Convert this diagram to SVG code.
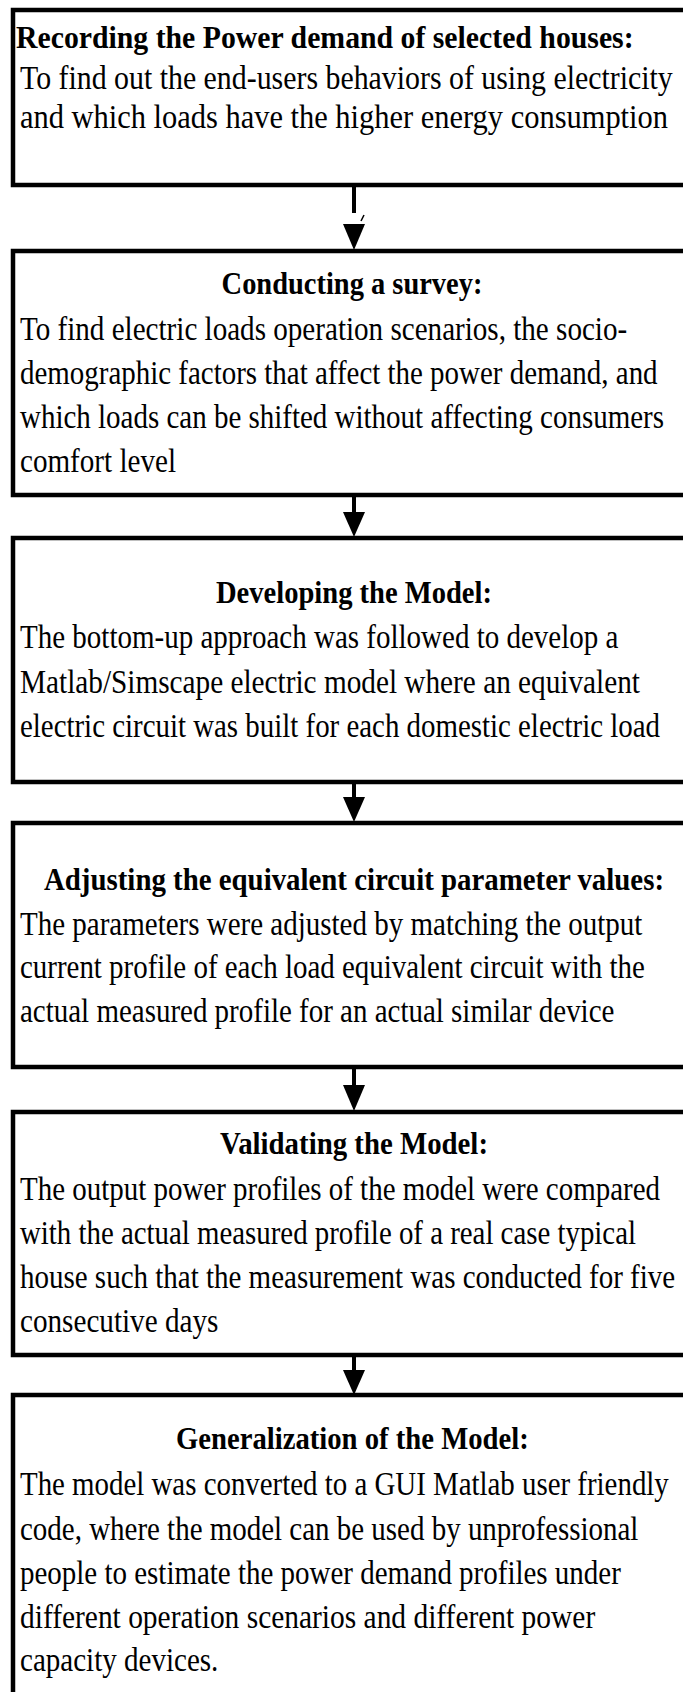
<svg xmlns="http://www.w3.org/2000/svg" width="683" height="1692" viewBox="0 0 683 1692">
<style>
.box{fill:#fff;stroke:#000;stroke-width:4.5}
.t{font-family:"Liberation Serif","Times New Roman",serif;font-size:31px;font-weight:bold;fill:#000}
.b{font-family:"Liberation Serif","Times New Roman",serif;font-size:33px;fill:#000}
.ln{stroke:#000;stroke-width:4;fill:none}
.hd{fill:#000}
</style>
<rect width="683" height="1692" fill="#fff"/>
<g id="connectors">
<line class="ln" x1="354" y1="186" x2="354" y2="213"/>
<line x1="361" y1="221" x2="364" y2="215" stroke="#000" stroke-width="1.5"/>
<polygon class="hd" points="343,224 365,224 354,250"/>
<line class="ln" x1="354" y1="496" x2="354" y2="514"/>
<polygon class="hd" points="343,512 365,512 354,537"/>
<line class="ln" x1="354" y1="783" x2="354" y2="799"/>
<polygon class="hd" points="343,797 365,797 354,822"/>
<line class="ln" x1="354" y1="1068" x2="354" y2="1087"/>
<polygon class="hd" points="343,1085 365,1085 354,1111"/>
<line class="ln" x1="354" y1="1356" x2="354" y2="1372"/>
<polygon class="hd" points="343,1370 365,1370 354,1395"/>
</g>
<g id="n1">
<rect class="box" x="13" y="10" width="700" height="175"/>
<g transform="scale(0.8 1)">
<text class="t" x="20" y="48" textLength="772" lengthAdjust="spacingAndGlyphs">Recording the Power demand of  selected houses:</text>
<text class="b" x="25" y="89" textLength="816" lengthAdjust="spacingAndGlyphs">To  find out the end-users behaviors of using electricity</text>
<text class="b" x="25" y="128" textLength="810" lengthAdjust="spacingAndGlyphs">and which loads have the higher energy consumption</text>
</g>
</g>
<g id="n2">
<rect class="box" x="13" y="251" width="700" height="244"/>
<g transform="scale(0.8 1)">
<text class="t" x="277" y="294" textLength="326" lengthAdjust="spacingAndGlyphs">Conducting a survey:</text>
<text class="b" x="25" y="340" textLength="759" lengthAdjust="spacingAndGlyphs">To  find electric loads operation scenarios, the socio-</text>
<text class="b" x="25" y="384" textLength="797" lengthAdjust="spacingAndGlyphs">demographic factors that affect the power demand, and</text>
<text class="b" x="25" y="428" textLength="805" lengthAdjust="spacingAndGlyphs">which loads can be shifted without affecting consumers</text>
<text class="b" x="25" y="472" textLength="195" lengthAdjust="spacingAndGlyphs">comfort level</text>
</g>
</g>
<g id="n3">
<rect class="box" x="13" y="538" width="700" height="244"/>
<g transform="scale(0.8 1)">
<text class="t" x="270" y="603" textLength="345" lengthAdjust="spacingAndGlyphs">Developing the Model:</text>
<text class="b" x="25" y="648" textLength="748" lengthAdjust="spacingAndGlyphs">The bottom-up approach was followed to develop a</text>
<text class="b" x="25" y="693" textLength="775" lengthAdjust="spacingAndGlyphs">Matlab/Simscape electric model  where an equivalent</text>
<text class="b" x="25" y="737" textLength="800" lengthAdjust="spacingAndGlyphs">electric circuit was built for each domestic electric load</text>
</g>
</g>
<g id="n4">
<rect class="box" x="13" y="823" width="700" height="244"/>
<g transform="scale(0.8 1)">
<text class="t" x="55" y="890" textLength="775" lengthAdjust="spacingAndGlyphs">Adjusting the equivalent circuit parameter values:</text>
<text class="b" x="25" y="935" textLength="778" lengthAdjust="spacingAndGlyphs">The parameters were adjusted by matching the output</text>
<text class="b" x="25" y="978" textLength="781" lengthAdjust="spacingAndGlyphs">current profile of each load equivalent circuit with the</text>
<text class="b" x="25" y="1022" textLength="743" lengthAdjust="spacingAndGlyphs">actual measured profile for an actual similar device</text>
</g>
</g>
<g id="n5">
<rect class="box" x="13" y="1112" width="700" height="243"/>
<g transform="scale(0.8 1)">
<text class="t" x="275" y="1154" textLength="335" lengthAdjust="spacingAndGlyphs">Validating the Model:</text>
<text class="b" x="25" y="1200" textLength="800" lengthAdjust="spacingAndGlyphs">The output power profiles of the model were compared</text>
<text class="b" x="25" y="1244" textLength="770" lengthAdjust="spacingAndGlyphs">with the actual measured profile of a real case typical</text>
<text class="b" x="25" y="1288" textLength="819" lengthAdjust="spacingAndGlyphs">house such that the measurement was conducted for five</text>
<text class="b" x="25" y="1332" textLength="248" lengthAdjust="spacingAndGlyphs">consecutive days</text>
</g>
</g>
<g id="n6">
<rect class="box" x="13" y="1395" width="700" height="320"/>
<g transform="scale(0.8 1)">
<text class="t" x="220" y="1449" textLength="441" lengthAdjust="spacingAndGlyphs">Generalization of the Model:</text>
<text class="b" x="25" y="1495" textLength="811" lengthAdjust="spacingAndGlyphs">The model was converted to a GUI Matlab user friendly</text>
<text class="b" x="25" y="1540" textLength="773" lengthAdjust="spacingAndGlyphs">code, where the model can be used by unprofessional</text>
<text class="b" x="25" y="1584" textLength="751" lengthAdjust="spacingAndGlyphs">people to estimate the power demand profiles under</text>
<text class="b" x="25" y="1628" textLength="719" lengthAdjust="spacingAndGlyphs">different  operation scenarios and different power</text>
<text class="b" x="25" y="1671" textLength="248" lengthAdjust="spacingAndGlyphs">capacity devices.</text>
</g>
</g>
</svg>
